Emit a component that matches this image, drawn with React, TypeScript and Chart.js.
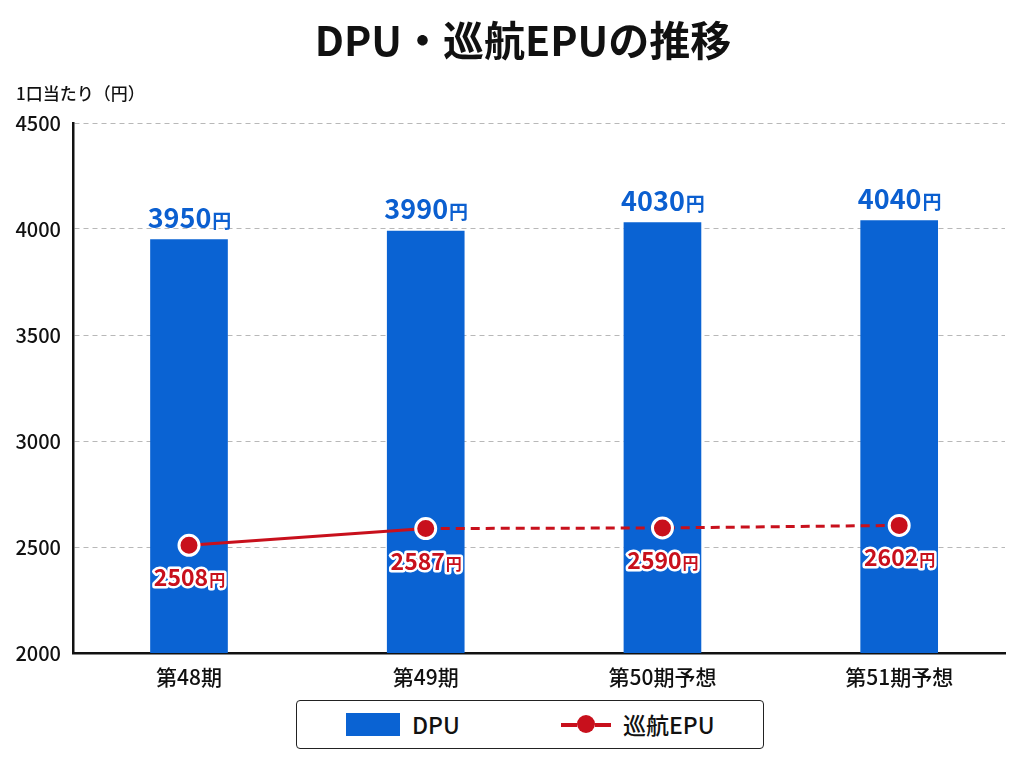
import { useEffect, useRef } from "react"
import { Chart, registerables } from "chart.js"

Chart.register(...registerables)

const categories = ["第48期", "第49期", "第50期予想", "第51期予想"]
const dpuValues = [3950, 3990, 4030, 4040]
const epuValues = [2508, 2587, 2590, 2602]
const yMin = 2000
const yMax = 4500
const yStep = 500

const FONT = "'Noto Sans CJK JP', 'Noto Sans', sans-serif"
const BLUE = "#0b5fd0"
const BAR_BLUE = "#0a63d3"
const RED = "#c8101c"

// 数値 + 小さい「円」を描く
function drawYen(
  ctx: CanvasRenderingContext2D,
  value: number,
  x: number,
  y: number,
  numSize: number,
  color: string,
  outline: boolean
) {
  const num = String(value)
  ctx.font = `bold ${numSize}px ${FONT}`
  const w1 = ctx.measureText(num).width
  const yenSize = Math.round(numSize * 0.7)
  ctx.font = `bold ${yenSize}px ${FONT}`
  const w2 = ctx.measureText("円").width
  const left = x - (w1 + w2) / 2
  ctx.textBaseline = "alphabetic"
  ctx.textAlign = "left"
  const parts: [string, number, number][] = [
    [num, numSize, left],
    ["円", yenSize, left + w1 + 1],
  ]
  for (const [t, s, px] of parts) {
    ctx.font = `bold ${s}px ${FONT}`
    if (outline) {
      ctx.lineWidth = 5
      ctx.strokeStyle = "#fff"
      ctx.lineJoin = "round"
      ctx.strokeText(t, px, y)
    }
    ctx.fillStyle = color
    ctx.fillText(t, px, y)
  }
}

const labelsPlugin = {
  id: "labelsPlugin",
  afterDatasetsDraw(chart: any) {
    const ctx = chart.ctx as CanvasRenderingContext2D
    ctx.save()
    const bars = chart.getDatasetMeta(0).data
    bars.forEach((el: any, i: number) => {
      drawYen(ctx, dpuValues[i], el.x, el.y - 12, 27, BLUE, false)
    })
    const pts = chart.getDatasetMeta(1).data
    pts.forEach((el: any, i: number) => {
      drawYen(ctx, epuValues[i], el.x, el.y + 41, 23, RED, true)
    })
    ctx.restore()
  },
  afterDraw(chart: any) {
    const ctx = chart.ctx as CanvasRenderingContext2D
    const area = chart.chartArea
    ctx.save()
    ctx.fillStyle = "#111"
    ctx.textAlign = "center"
    ctx.textBaseline = "middle"
    ctx.font = `bold 41px ${FONT}`
    ctx.fillText("DPU・巡航EPUの推移", 523, 40)
    ctx.textAlign = "left"
    ctx.font = `500 17px ${FONT}`
    ctx.fillText("1口当たり（円）", 16, area.top - 29)
    ctx.restore()
  },
}

function App() {
  const chartRef = useRef<HTMLCanvasElement>(null)
  const chartInstance = useRef<Chart | null>(null)

  useEffect(() => {
    document.body.style.margin = "0"
    if (!chartRef.current) return
    if (chartInstance.current) chartInstance.current.destroy()
    const ctx = chartRef.current.getContext("2d")
    if (!ctx) return

    const idx = categories.map((_, i) => i)

    chartInstance.current = new Chart(ctx, {
      type: "bar",
      data: {
        datasets: [
          {
            type: "bar",
            label: "DPU",
            data: idx.map((i) => ({ x: i, y: dpuValues[i] })),
            backgroundColor: BAR_BLUE,
            barThickness: 77,
            order: 2,
          },
          {
            type: "line",
            label: "巡航EPU",
            data: idx.map((i) => ({ x: i, y: epuValues[i] })),
            borderColor: RED,
            borderWidth: 3,
            pointBackgroundColor: RED,
            pointBorderColor: "#fff",
            pointBorderWidth: 3,
            pointRadius: 10,
            tension: 0,
            order: 1,
            segment: {
              borderDash: (c: any) => (c.p0DataIndex >= 1 ? [9, 6] : undefined),
            },
          } as any,
        ],
      },
      options: {
        responsive: false,
        animation: false,
        layout: { padding: { top: 123, right: 19, left: 0, bottom: 0 } },
        plugins: {
          legend: { display: false },
          title: { display: false },
          tooltip: { enabled: false },
        },
        scales: {
          x: {
            type: "linear",
            min: -0.49,
            max: 3.447,
            offset: false,
            grid: { display: false },
            border: { display: true, color: "#111", width: 2.5 },
            ticks: {
              stepSize: 1,
              includeBounds: false,
              autoSkip: false,
              maxRotation: 0,
              color: "#111",
              font: { family: FONT, size: 21, weight: 500 },
              padding: 3,
              callback: (v: any) => categories[v] ?? "",
            },
            afterFit: (scale: any) => {
              scale.height = 37
            },
          },
          y: {
            min: yMin,
            max: yMax,
            ticks: {
              stepSize: yStep,
              color: "#111",
              padding: 12,
              font: { family: FONT, size: 20, weight: 500 },
              callback: (v: any) => String(v),
            },
            grid: {
              color: (c: any) => (c.tick && c.tick.value === yMin ? "rgba(0,0,0,0)" : "#b8b8b8"),
              lineWidth: 1,
              drawTicks: false,
            },
            border: { display: true, color: "#111", width: 2.5, dash: [5, 4] },
            afterFit: (scale: any) => {
              scale.width = 73
            },
          },
        },
      } as any,
      plugins: [labelsPlugin],
    })

    return () => {
      if (chartInstance.current) chartInstance.current.destroy()
    }
  }, [])

  return (
    <div style={{ position: "relative", width: 1024, height: 768, background: "#fff", fontFamily: FONT }}>
      <canvas ref={chartRef} width={1024} height={690} style={{ display: "block" }}></canvas>
      <div
        style={{
          position: "absolute",
          left: 296,
          top: 700,
          width: 468,
          height: 49,
          border: "1.5px solid #222",
          borderRadius: 4,
          boxSizing: "border-box",
          fontSize: 23,
          fontWeight: 500,
          color: "#111",
        }}
      >
        <div style={{ position: "absolute", left: 49, top: 12, width: 54, height: 23, background: BAR_BLUE }}></div>
        <div style={{ position: "absolute", left: 115, top: 7, lineHeight: "32px" }}>DPU</div>
        <div style={{ position: "absolute", left: 264, top: 22, width: 16, height: 3.5, background: RED }}></div>
        <div style={{ position: "absolute", left: 298, top: 22, width: 16, height: 3.5, background: RED }}></div>
        <div
          style={{
            position: "absolute",
            left: 280,
            top: 14,
            width: 18,
            height: 18,
            borderRadius: "50%",
            background: RED,
          }}
        ></div>
        <div style={{ position: "absolute", left: 326, top: 7, lineHeight: "32px" }}>巡航EPU</div>
      </div>
    </div>
  )
}

export default App
